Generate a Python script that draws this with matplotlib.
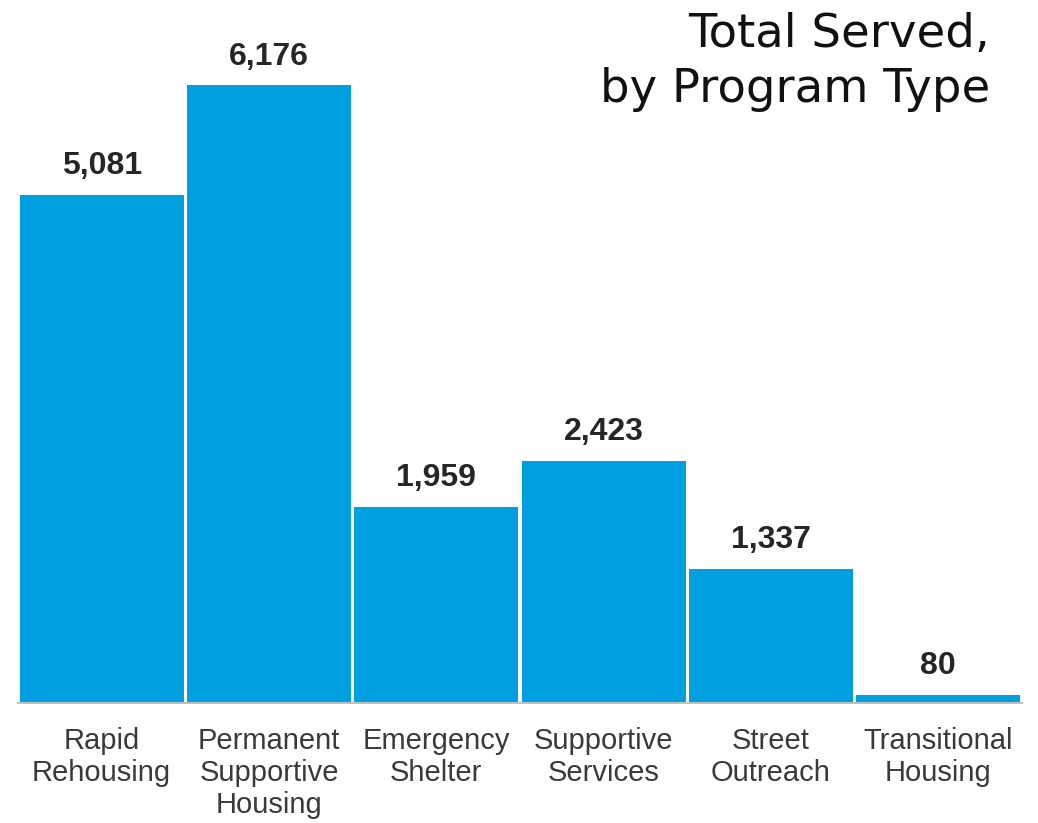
import matplotlib
matplotlib.use("Agg")
import matplotlib.pyplot as plt

categories = ["Rapid\nRehousing", "Permanent\nSupportive\nHousing", "Emergency\nShelter",
              "Supportive\nServices", "Street\nOutreach", "Transitional\nHousing"]
served = [5081, 6176, 1959, 2423, 1337, 80]

BAR_COLOR = "#009FDF"
W, H = 1038, 823
fig = plt.figure(figsize=(W / 100, H / 100), dpi=100)
ax = fig.add_axes([18 / W, (H - 703) / H, (1022 - 18) / W, 703 / H])

x = list(range(len(categories)))
ax.bar(x, served, width=0.982, color=BAR_COLOR, edgecolor="none", zorder=2)
ax.set_xlim(-0.5, len(categories) - 0.5)
ax.set_ylim(0, 7030)

for xi, v in zip(x, served):
    ax.annotate(f"{v:,}", (xi, v), xytext=(0, 10), textcoords="offset points",
                ha="center", va="bottom", fontsize=23, fontweight="bold",
                family="Liberation Sans", color="#262626")

for side in ["top", "right", "left"]:
    ax.spines[side].set_visible(False)
ax.spines["bottom"].set_color("#BFBFBF")
ax.spines["bottom"].set_linewidth(1.5)
ax.set_yticks([])
ax.set_xticks(x)
ax.set_xticklabels(categories, fontsize=21, family="Liberation Sans",
                   color="#3A3A3A", linespacing=1.2)
ax.tick_params(axis="x", length=0, pad=17)

fig.text(990 / W, 1 - 47 / H, "Total Served,", ha="right", va="baseline",
         fontsize=33.5, family="DejaVu Sans", color="#111111")
fig.text(990 / W, 1 - 102 / H, "by Program Type", ha="right", va="baseline",
         fontsize=33.5, family="DejaVu Sans", color="#111111")

fig.savefig("out.png", dpi=100)
